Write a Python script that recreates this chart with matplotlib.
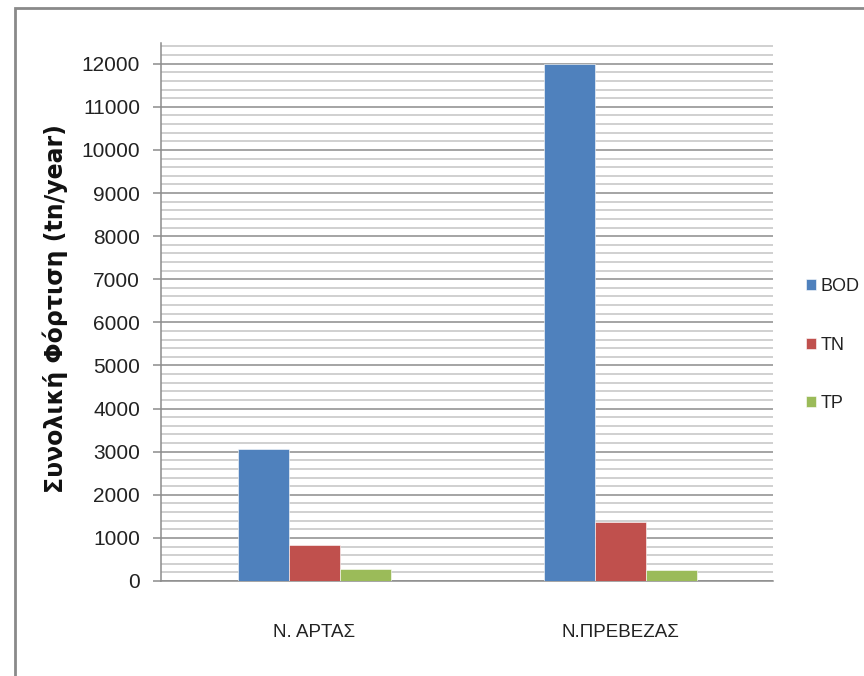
import matplotlib
matplotlib.use("Agg")
import matplotlib.pyplot as plt
from matplotlib.patches import Rectangle
from matplotlib.ticker import MultipleLocator
import numpy as np

# data
categories = ["Ν. ΑΡΤΑΣ", "Ν.ΠΡΕΒΕΖΑΣ"]
series_names = ["BOD", "TN", "TP"]
bod = [3060, 12000]
tn = [840, 1360]
tp = [280, 250]
colors = ["#4F81BD", "#C0504D", "#9BBB59"]

font = ["Liberation Sans", "DejaVu Sans"]

fig = plt.figure(figsize=(8.64, 6.76), dpi=100)
ax = fig.add_axes([161 / 864, 1 - 581 / 676, (773 - 161) / 864, (581 - 43) / 676])

x = np.arange(len(categories))
w = 1 / 6
for i, (vals, name) in enumerate(zip([bod, tn, tp], series_names)):
    ax.bar(x + (i - 1) * w, vals, width=w, color=colors[i], label=name,
           edgecolor="white", linewidth=0.4, zorder=3)

ax.set_xlim(-0.5, 1.5)
ax.set_ylim(0, 12480)
ax.yaxis.set_major_locator(MultipleLocator(1000))
ax.yaxis.set_minor_locator(MultipleLocator(200))
ax.grid(which="major", axis="y", color="#8c8c8c", linewidth=1.1, zorder=1)
ax.grid(which="minor", axis="y", color="#c4c4c4", linewidth=1.1, zorder=1)

for s in ["top", "right"]:
    ax.spines[s].set_visible(False)
for s in ["left", "bottom"]:
    ax.spines[s].set_color("#8c8c8c")
    ax.spines[s].set_linewidth(1.1)

ax.tick_params(axis="y", which="major", length=6, width=1.1, color="#8c8c8c",
               pad=9, labelsize=15)
ax.tick_params(axis="y", which="minor", length=0)
ax.tick_params(axis="x", length=0, pad=31, labelsize=13.5)
ax.set_xticks(x)
ax.set_xticklabels(categories)
for lab in ax.get_xticklabels() + ax.get_yticklabels():
    lab.set_family(font)
    lab.set_color("#222222")

fig.text(55 / 864, 1 - 309 / 676, "Συνολική Φόρτιση (tn/year)", rotation=90,
         ha="center", va="center", fontsize=17, fontweight="bold",
         family="DejaVu Sans", color="#111111")

leg = ax.legend(loc="center left", bbox_to_anchor=(806 / 864, 1 - 345 / 676),
                bbox_transform=fig.transFigure, frameon=False, borderpad=0,
                borderaxespad=0, handlelength=0.55, handleheight=0.55,
                handletextpad=0.25, labelspacing=2.3,
                prop={"family": font, "size": 13})
for t in leg.get_texts():
    t.set_color("#222222")

# chart frame, only top and left edges visible in the picture
fig.patches.append(Rectangle((15 / 864, -0.1), 1.2, 1.1 - 8 / 676,
                             transform=fig.transFigure, fill=False,
                             edgecolor="#8a8a8a", linewidth=2))

fig.savefig("out.png", dpi=100)
